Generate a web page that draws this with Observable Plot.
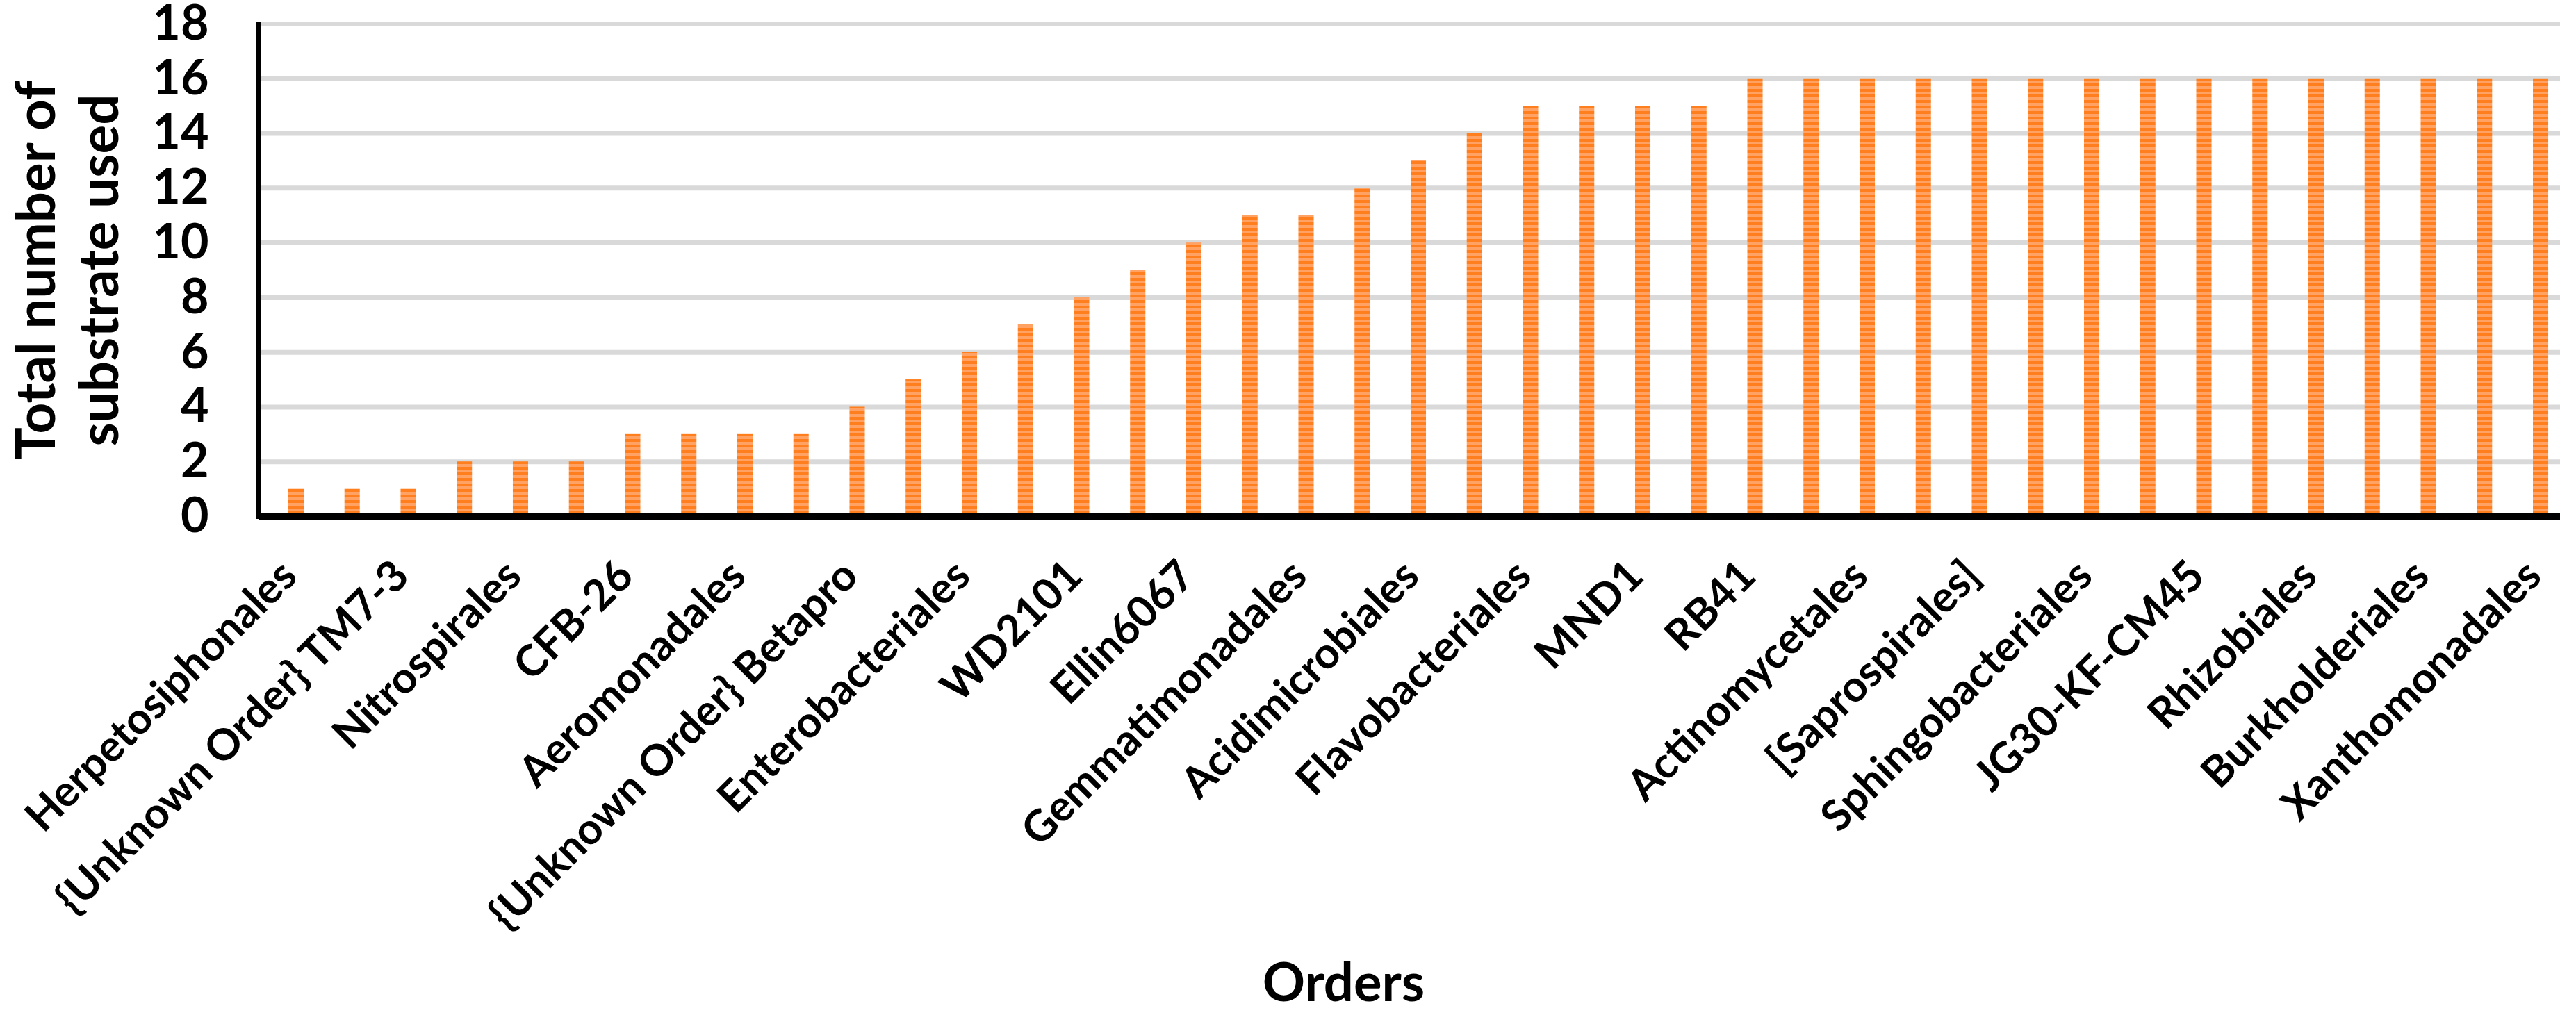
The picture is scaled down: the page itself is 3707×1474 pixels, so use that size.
<!DOCTYPE html>
<html>
<head>
<meta charset="utf-8">
<script src="https://cdn.jsdelivr.net/npm/d3@7"></script>
<script src="https://cdn.jsdelivr.net/npm/@observablehq/plot@0.6"></script>
<style>
  html, body { margin: 0; padding: 0; background: #ffffff; }
  svg { display: block; }
</style>
</head>
<body>
<div id="chart"></div>
<script>
// Tick labels shown (every other category, as in the original)
const tickLabels = [
  "Herpetosiphonales", "{Unknown Order} TM7-3", "Nitrospirales", "CFB-26",
  "Aeromonadales", "{Unknown Order} Betapro", "Enterobacteriales", "WD2101",
  "Ellin6067", "Gemmatimonadales", "Acidimicrobiales", "Flavobacteriales",
  "MND1", "RB41", "Actinomycetales", "[Saprospirales]", "Sphingobacteriales",
  "JG30-KF-CM45", "Rhizobiales", "Burkholderiales", "Xanthomonadales"
];
// Total number of substrate used, one value per order (41 orders)
const values = [
  1, 1, 1, 2, 2, 2, 3, 3, 3, 3,
  4, 5, 6, 7, 8, 9, 10, 11, 11, 12,
  13, 14, 15, 15, 15, 15, 16, 16, 16, 16,
  16, 16, 16, 16, 16, 16, 16, 16, 16, 16, 16
];
const yTicks = [0, 2, 4, 6, 8, 10, 12, 14, 16, 18];
const yTitle = "Total number of\nsubstrate used";
const xTitle = "Orders";

const categories = values.map((_, i) => i);
const table = categories.map(i => ({order: i, used: values[i]}));

const plot = Plot.plot({
  width: 3707,
  height: 1474,
  marginLeft: 372,
  marginRight: 23,
  marginTop: 34,
  marginBottom: 731,
  style: {fontFamily: "Lato, 'Open Sans', sans-serif", fontWeight: "bold", background: "#ffffff", color: "#000000"},
  x: {domain: categories, range: [385.6, 3696.4], paddingInner: 0.727, paddingOuter: 0.3635},
  y: {domain: [0, 18]},
  marks: [
    Plot.gridY(yTicks, {stroke: "#d9d9d9", strokeOpacity: 1, strokeWidth: 7}),
    Plot.barY(table, {x: "order", y: "used", fill: "url(#stripes)"}),
    Plot.ruleY([0], {stroke: "#000000", strokeWidth: 10}),
    Plot.frame({anchor: "left", stroke: "#000000", strokeWidth: 7}),
    Plot.axisY(yTicks, {tickSize: 0, tickPadding: 72, fontSize: 70, fontWeight: "bold", label: null}),
    Plot.axisX({tickRotate: -45, tickSize: 0, tickPadding: 75, fontSize: 62, fontWeight: "bold", dx: -10,
      tickFormat: i => i % 2 === 0 ? tickLabels[i / 2] : "", label: null}),
    Plot.text([yTitle], {text: d => d, frameAnchor: "left", textAnchor: "middle", lineAnchor: "middle",
      rotate: -90, dx: -277, fontSize: 78, lineHeight: 1.17, fontWeight: "bold"}),
    Plot.text([xTitle], {text: d => d, frameAnchor: "bottom", textAnchor: "middle", lineAnchor: "middle",
      dx: -95, dy: 673, fontSize: 76, fontWeight: "bold"})
  ]
});

// striped orange fill pattern used by the bars
const ns = "http://www.w3.org/2000/svg";
const defs = document.createElementNS(ns, "defs");
defs.innerHTML = `<pattern id="stripes" patternUnits="userSpaceOnUse" width="8" height="8">
  <rect x="0" y="0" width="8" height="4" fill="#ff7f1e"></rect>
  <rect x="0" y="4" width="8" height="4" fill="#ffa264"></rect>
</pattern>`;
plot.insertBefore(defs, plot.firstChild);
document.getElementById("chart").appendChild(plot);
</script>
</body>
</html>
